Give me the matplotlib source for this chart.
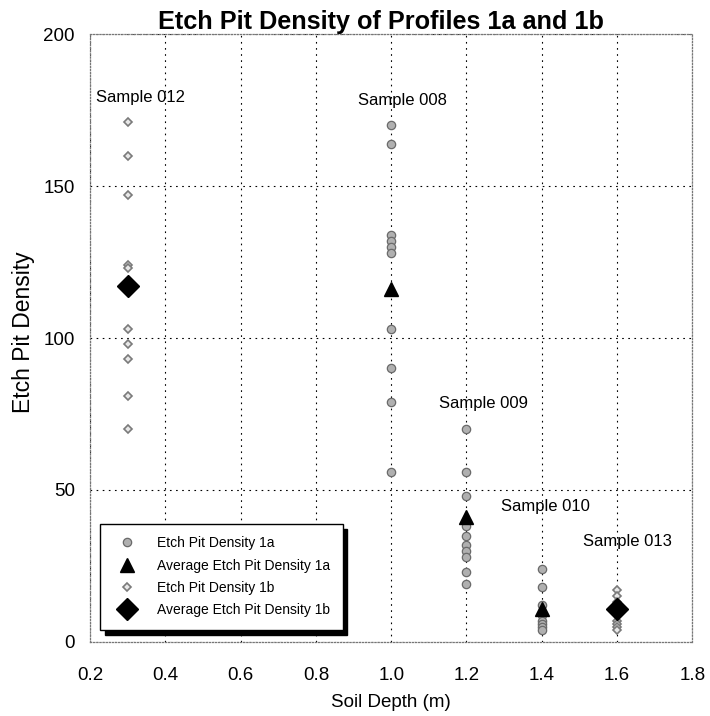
"""
Etch pit density of profiles 1a and 1b versus soil depth.
"""

import matplotlib
matplotlib.use('Agg')
import matplotlib.pyplot as plt

plt.rcParams['font.family'] = ['Liberation Sans', 'DejaVu Sans']

# profile 1a, individual counts
depth_1a = [1.0] * 10 + [1.2] * 10 + [1.4] * 8
density_1a = [170, 164, 134, 132, 130, 128, 103, 90, 79, 56,
              70, 56, 48, 38, 35, 32, 30, 28, 23, 19,
              24, 18, 12, 9, 7, 6, 5, 4]

# profile 1a, averages
avg_depth_1a = [1.0, 1.2, 1.4]
avg_density_1a = [116, 41, 11]

# profile 1b, individual counts
depth_1b = [0.3] * 10 + [1.6] * 9
density_1b = [171, 160, 147, 124, 123, 103, 98, 93, 81, 70,
              17, 15, 13, 11, 9, 7, 6, 5, 4]

# profile 1b, averages
avg_depth_1b = [0.3, 1.6]
avg_density_1b = [117, 11]

sample_names = ['Sample 012', 'Sample 008', 'Sample 009', 'Sample 010', 'Sample 013']
sample_x = [0.335, 1.03, 1.245, 1.41, 1.628]
sample_y = [179, 178, 78.5, 44.5, 33]

fig = plt.figure(figsize=(7.1, 7.16), dpi=100)
ax = fig.add_axes([0.127, 0.1034, 0.848, 0.849])

ax.plot(depth_1a, density_1a, linestyle='none', marker='o', ms=6,
        mfc='#b0b0b0', mec='#6a6a6a', mew=0.9, label='Etch Pit Density 1a', zorder=3)
ax.plot(avg_depth_1a, avg_density_1a, linestyle='none', marker='^', ms=10.5,
        color='black', label='Average Etch Pit Density 1a', zorder=4)
ax.plot(depth_1b, density_1b, linestyle='none', marker='D', ms=4,
        mfc='#e8e8e8', mec='#7a7a7a', mew=1.2, label='Etch Pit Density 1b', zorder=3)
ax.plot(avg_depth_1b, avg_density_1b, linestyle='none', marker='D', ms=11,
        color='black', label='Average Etch Pit Density 1b', zorder=4)

for name, x, y in zip(sample_names, sample_x, sample_y):
    ax.text(x, y, name, ha='center', va='center', fontsize=12)

ax.set_xlim(0.2, 1.8)
ax.set_ylim(0, 200)
ax.set_xticks([0.2, 0.4, 0.6, 0.8, 1.0, 1.2, 1.4, 1.6, 1.8])
ax.set_xticklabels(['0.2', '0.4', '0.6', '0.8', '1.0', '1.2', '1.4', '1.6', '1.8'])
ax.set_yticks([0, 50, 100, 150, 200])

ax.grid(True, linestyle=(0, (1.5, 4)), color='black', linewidth=0.8)
ax.set_axisbelow(True)
for spine in ax.spines.values():
    spine.set_linestyle((0, (1, 1.5)))
    spine.set_color('#777777')
    spine.set_linewidth(0.9)

ax.tick_params(axis='both', length=0, labelsize=13.5)
ax.tick_params(axis='x', pad=18)
ax.tick_params(axis='y', pad=11)

ax.set_title('Etch Pit Density of Profiles 1a and 1b', fontsize=18.2,
             fontweight='bold', pad=1, x=0.483)
ax.set_xlabel('Soil Depth (m)', fontsize=13.5, labelpad=7)
ax.set_ylabel('Etch Pit Density', fontsize=16.5)
ax.yaxis.set_label_coords(-0.092, 0.51)

leg = ax.legend(loc='lower left', bbox_to_anchor=(0.017, 0.02), borderaxespad=0,
                fontsize=10, frameon=True, fancybox=False, edgecolor='black',
                framealpha=1, shadow={'ox': 3, 'oy': -4, 'color': 'black', 'alpha': 1},
                borderpad=0.9, labelspacing=0.6, handletextpad=1.2)
leg.get_frame().set_linewidth(1.0)

plt.savefig('out.png', dpi=100)
plt.close(fig)
